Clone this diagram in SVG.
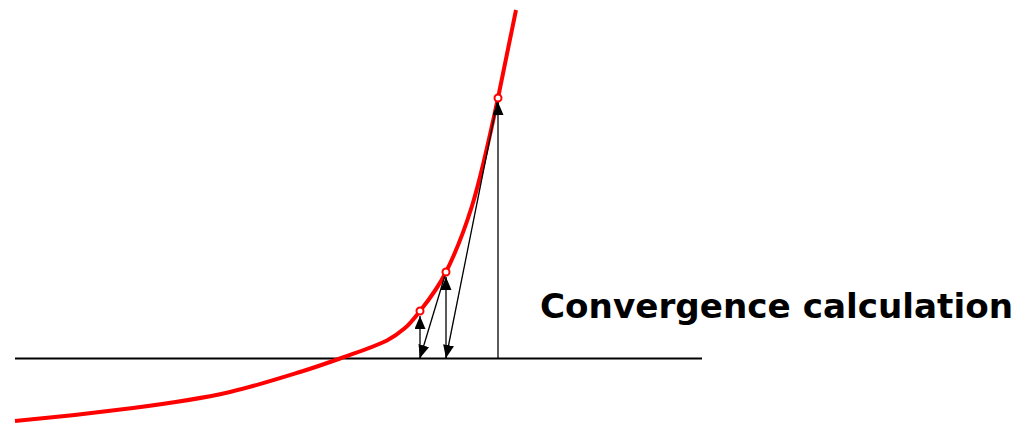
<svg xmlns="http://www.w3.org/2000/svg" width="1023" height="423" viewBox="0 0 1023 423">
<style>
.axis{stroke:#000;stroke-width:2;fill:none}
.curve{stroke:#ff0000;stroke-width:4;fill:none;stroke-linejoin:round}
.conn{stroke:#000;stroke-width:1.3;fill:none;marker-end:url(#arrow)}
.pt{fill:#fff;stroke:#ff0000;stroke-width:2}
.label{font-family:"DejaVu Sans","Noto Sans","Liberation Sans",sans-serif;font-weight:bold;font-size:33px;fill:#000}
</style>
<defs>
<marker id="arrow" markerUnits="userSpaceOnUse" markerWidth="13" markerHeight="11" refX="13" refY="5.5" orient="auto" viewBox="0 0 13 11">
<path d="M0,0 L13,5.5 L0,11 z" fill="#000"/>
</marker>
</defs>
<rect width="1023" height="423" fill="#fff"/>
<g id="axis">
<line class="axis" x1="15" y1="358.5" x2="702" y2="358.5"/>
</g>
<g id="curve">
<path class="curve" d="M15,421 C54.33,417.46 93.67,413.11 133,408 C165.33,403.8 197.67,399.5 230,392 C253.33,386.6 276.67,379.23 300,372 C313.33,367.87 326.67,363.3 340,358.5 C355.67,352.86 371.33,348 387,340.5 C393,337.3 399,333.1 405,328 C410,323.75 415,317.25 420,311 C428.67,300.17 437.33,289.33 446,272 C454.67,254.67 463.33,233.73 472,206 C480.67,178.27 489.33,138.73 498,98 C504,69.8 510,40 516,10"/>
</g>
<g id="connectors">
<line class="conn" x1="498" y1="358" x2="498" y2="102"/>
<line class="conn" x1="498" y1="98" x2="446" y2="358"/>
<line class="conn" x1="446" y1="358" x2="446" y2="277"/>
<line class="conn" x1="446" y1="272" x2="420" y2="358"/>
<line class="conn" x1="420" y1="358" x2="420" y2="316"/>
</g>
<g id="points">
<circle class="pt" cx="420" cy="311" r="3.5"/>
<circle class="pt" cx="446" cy="272" r="3.5"/>
<circle class="pt" cx="498" cy="98" r="3.5"/>
</g>
<g id="label">
<text class="label" x="540" y="318" textLength="473" lengthAdjust="spacingAndGlyphs">Convergence calculation</text>
</g>
</svg>
